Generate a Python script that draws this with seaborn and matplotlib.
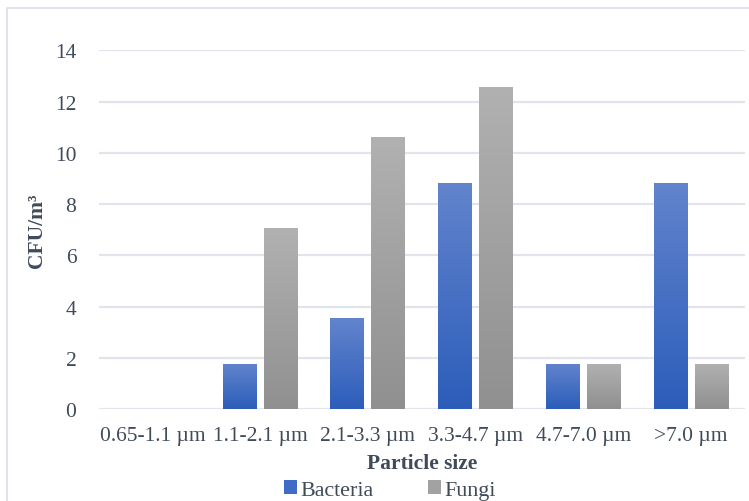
import numpy as np
import pandas as pd
import matplotlib
matplotlib.use("Agg")
import matplotlib.pyplot as plt
from matplotlib.patches import Patch, Rectangle
from matplotlib.colors import LinearSegmentedColormap
import seaborn as sns

categories = ["0.65-1.1 µm", "1.1-2.1 µm", "2.1-3.3 µm", "3.3-4.7 µm", "4.7-7.0 µm", ">7.0 µm"]
bacteria = [0, 1.77, 3.55, 8.83, 1.77, 8.83]
fungi = [0, 7.06, 10.6, 12.56, 1.77, 1.77]
series = ["Bacteria", "Fungi"]
yticks = [0, 2, 4, 6, 8, 10, 12, 14]

df = pd.DataFrame({
    "size": categories * 2,
    "value": bacteria + fungi,
    "series": ["Bacteria"] * len(categories) + ["Fungi"] * len(categories),
})

sns.set_theme(style="white")
plt.rcParams["font.family"] = ["Liberation Serif", "DejaVu Serif"]
txt = "#404B5A"
fs = 15.5

fig = plt.figure(figsize=(7.49, 5.02), dpi=100)
ax = fig.add_axes([98.6 / 749, 1 - 410 / 502, (745 - 98.6) / 749, (410 - 51.3) / 502])

grad_colors = {
    "Bacteria": ("#6284CD", "#2C5DBA"),
    "Fungi": ("#B1B1B1", "#909090"),
}
mid = {"Bacteria": "#3F6CC6", "Fungi": "#A2A2A2"}

sns.barplot(data=df, x="size", y="value", hue="series", order=categories,
            hue_order=series, palette=mid, width=0.76, gap=0.171,
            ax=ax, legend=False, saturation=1)

# gradient fill for each bar
for container, name in zip(ax.containers, series):
    top, bot = grad_colors[name]
    cmap = LinearSegmentedColormap.from_list(name, [bot, top])
    for bar in container:
        h = bar.get_height()
        if h <= 0:
            bar.set_visible(False)
            continue
        x0 = bar.get_x()
        w = bar.get_width()
        grad = np.linspace(0, 1, 256).reshape(-1, 1)
        im = ax.imshow(grad, extent=(x0, x0 + w, 0, h), origin="lower",
                       cmap=cmap, aspect="auto", zorder=3)
        im.set_clip_path(bar)
        bar.set_facecolor("none")
        bar.set_edgecolor("none")

ax.set_xlim(-0.5, 5.5)
ax.set_ylim(0, 14)
ax.set_yticks(yticks)
ax.set_yticklabels([str(v) for v in yticks])
ax.yaxis.grid(True, color="#E1E4EB", linewidth=1.6, zorder=0)
ax.set_axisbelow(True)
for s in ax.spines.values():
    s.set_visible(False)
ax.tick_params(axis="both", length=0, labelsize=fs, colors=txt)
ax.tick_params(axis="y", pad=16)
ax.tick_params(axis="x", pad=12)

ax.set_xlabel("Particle size", fontsize=fs, fontweight="bold", color=txt, labelpad=6)
ax.set_ylabel("CFU/m³", fontsize=fs, fontweight="bold", color=txt, labelpad=6)

handles = [Patch(facecolor=mid[s], edgecolor="none", label=s) for s in series]
fig.legend(handles=handles, loc="center", bbox_to_anchor=(390 / 749, 1 - 491 / 502),
           ncol=2, frameon=False, fontsize=15.8, handlelength=0.6, handleheight=0.6,
           handletextpad=0.15, columnspacing=2.5, labelcolor=txt)

fig.patches.append(Rectangle((7 / 749, -0.1), 1.2, (1 - 9 / 502) + 0.1,
                             transform=fig.transFigure, fill=False,
                             edgecolor="#D9DEE8", linewidth=1.2))

fig.savefig("out.png", dpi=100)
